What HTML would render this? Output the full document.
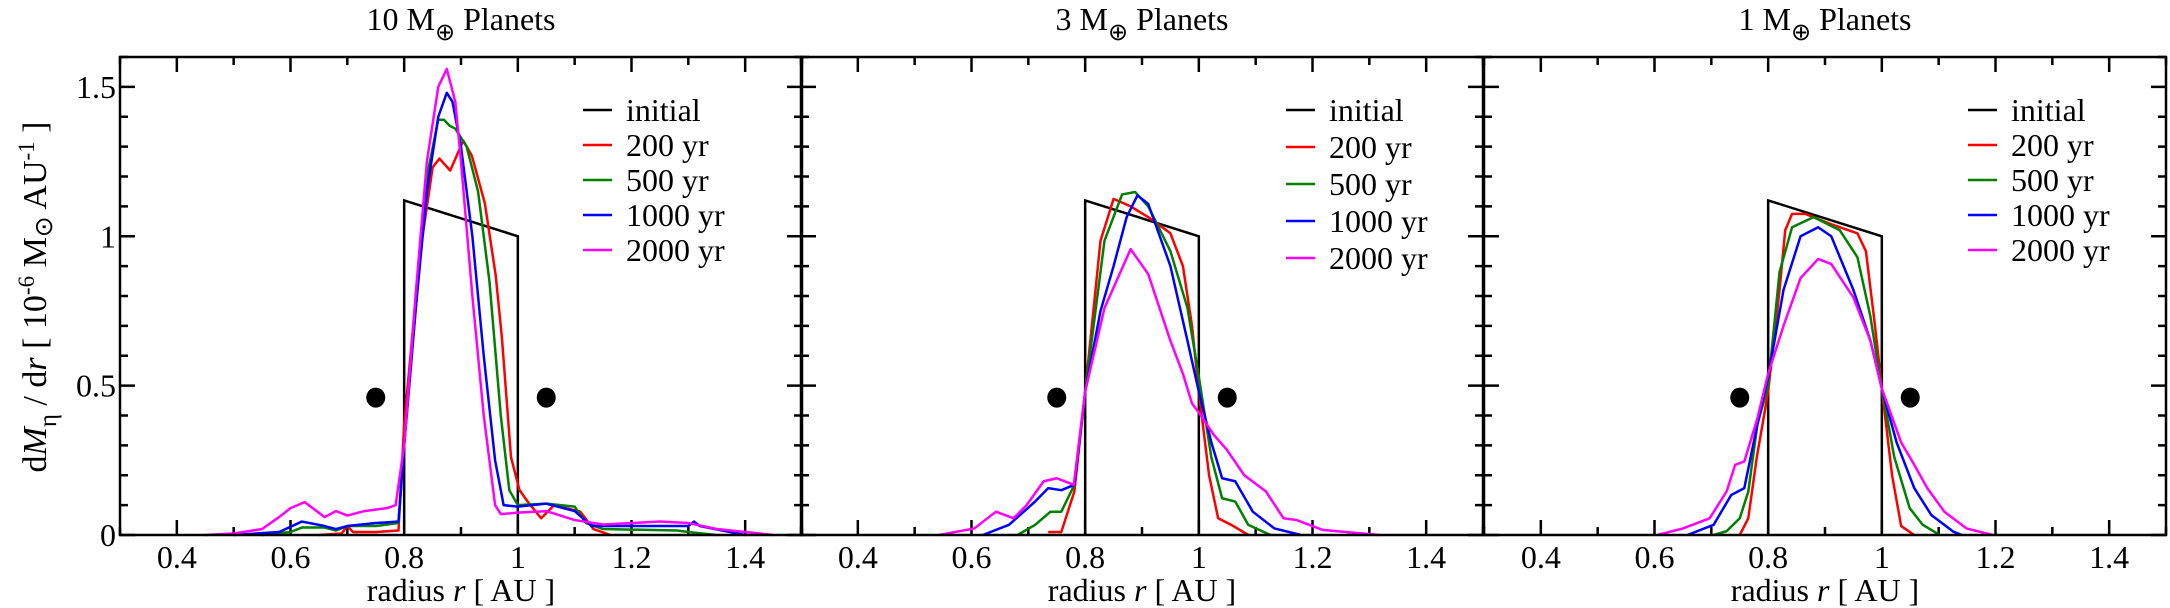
<!DOCTYPE html>
<html><head><meta charset="utf-8"><style>
html,body{margin:0;padding:0;background:#fff;}
svg{display:block;font-family:"Liberation Serif",serif;}
</style></head><body>
<svg id="chart" width="2170" height="608" viewBox="0 0 2170 608" xmlns="http://www.w3.org/2000/svg">
<text transform="translate(46,297) rotate(-90)" text-anchor="middle" font-size="34">d<tspan font-style="italic">M</tspan><tspan dy="10" font-size="25">η</tspan><tspan dy="-10"> / d</tspan><tspan font-style="italic">r</tspan> [ 10<tspan dy="-12" font-size="23">-6</tspan><tspan dy="12"> M</tspan><tspan dy="6" font-size="25">⊙</tspan><tspan dy="-6"> AU</tspan><tspan dy="-12" font-size="23">-1</tspan><tspan dy="12"> ]</tspan></text>
</svg>
<script>
// ---- data ----
const panelTitles = ["10", "3", "1"];
const legendLabels = ["initial", "200 yr", "500 yr", "1000 yr", "2000 yr"];
const seriesColors = ["#000000", "#ff0000", "#008000", "#0000ff", "#ff00ff"];
const xTicks = [0.4, 0.6, 0.8, 1, 1.2, 1.4];
const yTicks = [0, 0.5, 1, 1.5];
const initialX = [0.8, 0.8, 1.0, 1.0];
const initialY = [0, 1.12, 1.0, 0];
const planetX = [0.75, 1.05];
const planetY = [0.46, 0.46];

// panel 1 (10 Earth masses)
const p1RedX = [0.65,0.69,0.70,0.71,0.75,0.79,0.80,0.827,0.85,0.862,0.881,0.904,0.919,0.942,0.961,0.972,0.988,1.003,1.018,1.041,1.064,1.11,1.133,1.163];
const p1RedY = [0,0.005,0.03,0.01,0.01,0.015,0.37,0.93,1.23,1.26,1.22,1.32,1.27,1.11,0.87,0.66,0.26,0.15,0.11,0.056,0.10,0.078,0.02,0];
const p1GreenX = [0.55,0.6,0.62,0.66,0.68,0.70,0.75,0.79,0.80,0.82,0.84,0.86,0.87,0.88,0.89,0.91,0.93,0.95,0.97,0.985,1.0,1.05,1.1,1.12,1.15,1.28,1.3,1.35];
const p1GreenY = [0,0.01,0.025,0.025,0.015,0.03,0.03,0.04,0.3,0.75,1.2,1.39,1.39,1.37,1.36,1.30,1.15,0.85,0.4,0.15,0.1,0.105,0.095,0.04,0.02,0.015,0.01,0];
const p1BlueX = [0.50,0.58,0.62,0.66,0.68,0.70,0.75,0.79,0.80,0.82,0.84,0.86,0.875,0.885,0.90,0.92,0.94,0.96,0.975,1.0,1.05,1.1,1.13,1.3,1.31,1.32,1.4];
const p1BlueY = [0,0.01,0.045,0.03,0.02,0.03,0.04,0.045,0.3,0.75,1.15,1.40,1.48,1.45,1.3,1.0,0.6,0.25,0.1,0.095,0.105,0.08,0.03,0.03,0.045,0.03,0];
const p1MagX = [0.45,0.5,0.55,0.58,0.6,0.625,0.66,0.68,0.70,0.73,0.77,0.785,0.8,0.82,0.84,0.86,0.875,0.89,0.90,0.92,0.94,0.96,0.97,1.0,1.05,1.1,1.15,1.2,1.25,1.3,1.35,1.45];
const p1MagY = [0,0.005,0.02,0.06,0.09,0.11,0.06,0.08,0.065,0.08,0.09,0.1,0.3,0.8,1.25,1.5,1.56,1.45,1.25,0.8,0.4,0.1,0.07,0.075,0.08,0.05,0.035,0.04,0.045,0.04,0.02,0];

// panel 2 (3 Earth masses)
const p2RedX = [0.735,0.758,0.781,0.80,0.827,0.85,0.88,0.911,0.95,0.972,0.988,1.0,1.018,1.034,1.057,1.087];
const p2RedY = [0.01,0.01,0.146,0.48,0.985,1.125,1.1,1.064,1.01,0.9,0.7,0.48,0.2,0.056,0.034,0];
const p2GreenX = [0.681,0.712,0.739,0.758,0.781,0.80,0.834,0.865,0.888,0.911,0.95,0.98,1.0,1.022,1.041,1.064,1.087,1.126];
const p2GreenY = [0,0.034,0.078,0.078,0.168,0.48,0.985,1.14,1.148,1.1,0.95,0.76,0.53,0.26,0.123,0.112,0.034,0];
const p2BlueX = [0.62,0.666,0.712,0.735,0.758,0.781,0.80,0.827,0.85,0.873,0.892,0.911,0.95,0.98,1.0,1.022,1.041,1.064,1.095,1.133,1.18];
const p2BlueY = [0,0.034,0.112,0.157,0.15,0.168,0.48,0.75,0.9,1.064,1.137,1.108,0.9,0.65,0.48,0.31,0.19,0.18,0.078,0.022,0];
const p2MagX = [0.543,0.605,0.643,0.674,0.697,0.727,0.75,0.78,0.80,0.834,0.88,0.911,0.95,0.972,0.988,1.0,1.026,1.049,1.08,1.118,1.149,1.172,1.218,1.317];
const p2MagY = [0,0.022,0.078,0.056,0.1,0.18,0.19,0.168,0.48,0.76,0.957,0.873,0.65,0.54,0.44,0.41,0.336,0.286,0.2,0.146,0.056,0.05,0.017,0];

// panel 3 (1 Earth mass)
const p3RedX = [0.75,0.765,0.78,0.80,0.82,0.83,0.842,0.865,0.911,0.957,0.972,0.988,1.0,1.018,1.034,1.057];
const p3RedY = [0,0.056,0.26,0.48,0.82,1.02,1.075,1.075,1.04,1.01,0.95,0.7,0.49,0.2,0.03,0];
const p3GreenX = [0.704,0.727,0.75,0.765,0.781,0.80,0.82,0.842,0.88,0.926,0.957,0.98,1.0,1.022,1.049,1.072,1.102];
const p3GreenY = [0,0.013,0.056,0.145,0.37,0.5,0.88,1.03,1.064,1.02,0.93,0.73,0.49,0.26,0.09,0.034,0];
const p3BlueX = [0.658,0.704,0.735,0.758,0.781,0.80,0.827,0.857,0.888,0.911,0.95,0.98,1.0,1.026,1.057,1.087,1.126,1.141];
const p3BlueY = [0,0.034,0.134,0.157,0.37,0.53,0.82,1.0,1.03,1.0,0.82,0.65,0.49,0.31,0.157,0.067,0.011,0];
const p3MagX = [0.605,0.65,0.697,0.727,0.742,0.758,0.781,0.80,0.827,0.857,0.888,0.911,0.95,0.98,1.0,1.034,1.057,1.08,1.11,1.149,1.195];
const p3MagY = [0,0.022,0.056,0.146,0.235,0.246,0.39,0.54,0.7,0.86,0.924,0.907,0.795,0.65,0.49,0.31,0.235,0.157,0.078,0.022,0];

const panelSeries = [
  [[p1RedX,p1RedY],[p1GreenX,p1GreenY],[p1BlueX,p1BlueY],[p1MagX,p1MagY]],
  [[p2RedX,p2RedY],[p2GreenX,p2GreenY],[p2BlueX,p2BlueY],[p2MagX,p2MagY]],
  [[p3RedX,p3RedY],[p3GreenX,p3GreenY],[p3BlueX,p3BlueY],[p3MagX,p3MagY]]
];

// ---- layout ----
const NS = "http://www.w3.org/2000/svg";
const svgEl = document.getElementById('chart');
const panelLeft = [120, 801, 1484];
const panelW = 682, plotTop = 57, plotBottom = 535;
const xMin = 0.3, xMax = 1.5, yMin = 0, yMax = 1.6;
const legendOffsets = [[463,506,110,35],[485,528,110,37],[484,527,110,35]];

function mk(tag, attrs, parent){
  const e = document.createElementNS(NS, tag);
  for (const k in attrs) e.setAttribute(k, attrs[k]);
  (parent||svgEl).appendChild(e);
  return e;
}

panelTitles.forEach((t, p) => {
  const L = panelLeft[p];
  const sx = v => L + (v - xMin) / (xMax - xMin) * panelW;
  const sy = v => plotBottom - (v - yMin) / (yMax - yMin) * (plotBottom - plotTop);
  const g = mk('g', {});
  
  

  const title = mk('text', {x: L + panelW/2, y: 30, 'text-anchor': 'middle', 'font-size': 32}, g);
  
  
  title.innerHTML = t + ' M<tspan dy="10" font-size="24">⊕</tspan><tspan dy="-10"> Planets</tspan>';

  for (let i = 0; i <= 12; i++) {
    const xv = 0.3 + i * 0.1;
    const xp = sx(xv);
    const major = xTicks.some(v => Math.abs(v - xv) < 1e-6);
    const len = major ? 15 : 8;
    const tk = mk('path', {d: `M${xp},${plotBottom}v${-len}M${xp},${plotTop}v${len}`, stroke: '#000', 'stroke-width': 2.5}, g);
    
    
  }
  for (let i = 0; i <= 16; i++) {
    const yv = i * 0.1;
    const yp = sy(yv);
    const major = yTicks.some(v => Math.abs(v - yv) < 1e-6);
    const len = major ? 15 : 8;
    const tk = mk('path', {d: `M${L},${yp}h${len}M${L+panelW},${yp}h${-len}`, stroke: '#000', 'stroke-width': 2.5}, g);
    
    
  }
  xTicks.forEach(v => {
    const tl = mk('text', {x: sx(v), y: 568, 'text-anchor': 'middle', 'font-size': 32}, g);
    
    
    tl.textContent = String(v);
  });
  if (p === 0) {
    yTicks.forEach(v => {
      const tl = mk('text', {x: 116, y: sy(v) + 11, 'text-anchor': 'end', 'font-size': 32}, g);
      
      
      tl.textContent = String(v);
    });
  }
  const xt = mk('text', {x: L + panelW/2, y: 601, 'text-anchor': 'middle', 'font-size': 32}, g);
  
  
  xt.innerHTML = 'radius <tspan font-style="italic">r</tspan> [ AU ]';

  const ini = mk('polyline', {points: initialX.map((x,i)=>sx(x)+','+sy(initialY[i])).join(' '), fill: 'none', stroke: '#000', 'stroke-width': 2.5}, g);
  
  

  panelSeries[p].forEach((s, k) => {
    const pl = mk('polyline', {points: s[0].map((x,i)=>sx(x)+','+sy(s[1][i])).join(' '), fill: 'none', stroke: seriesColors[k+1], 'stroke-width': 2.5, 'stroke-linejoin': 'round'}, g);
    
    
  });

  planetX.forEach((x, i) => {
    const c = mk('ellipse', {cx: sx(x), cy: sy(planetY[i]), rx: 9.5, ry: 10, fill: '#000'}, g);
    
    
  });

  const lo = legendOffsets[p];
  legendLabels.forEach((lab, k) => {
    const yy = lo[2] + k * lo[3];
    const ln = mk('line', {x1: L + lo[0], x2: L + lo[0] + 29, y1: yy, y2: yy, stroke: seriesColors[k], 'stroke-width': 2.5}, g);
    
    
    const tx = mk('text', {x: L + lo[1], y: yy + 11, 'font-size': 32}, g);
    
    
    tx.textContent = lab;
  });

  const fr = mk('rect', {x: L, y: plotTop, width: panelW, height: plotBottom - plotTop, fill: 'none', stroke: '#000', 'stroke-width': 2.5}, g);
  
  
});
</script>
</body></html>
